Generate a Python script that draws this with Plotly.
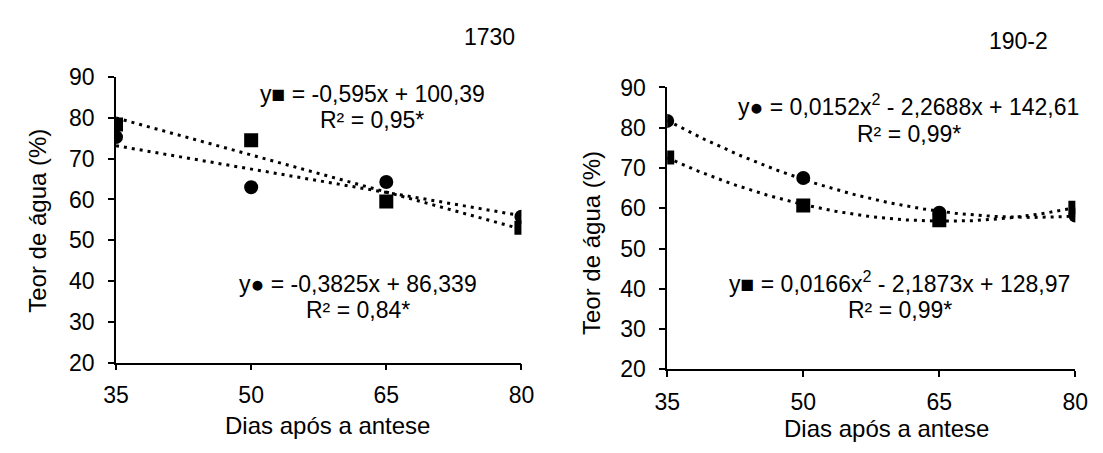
import numpy as np
import plotly.graph_objects as go

# ---------------- data ----------------
days = [35, 50, 65, 80]
# Cultivar 1730
c1730_circle = [75.3, 63.0, 64.3, 55.8]
c1730_square = [78.4, 74.5, 59.5, 53.1]
# Cultivar 190-2
c1902_circle = [81.7, 67.5, 58.9, 58.2]
c1902_square = [72.6, 60.7, 57.0, 60.1]

y_ticks = [20, 30, 40, 50, 60, 70, 80, 90]
x_ticks = [35, 50, 65, 80]
titles = ["1730", "190-2"]
x_title = "Dias após a antese"
y_title = "Teor de água (%)"

eq_1730_square = ["y■ = -0,595x + 100,39", "R² = 0,95*"]
eq_1730_circle = ["y● = -0,3825x + 86,339", "R² = 0,84*"]
eq_1902_circle = ["y● = 0,0152x<sup>2</sup> - 2,2688x + 142,61", "R² = 0,99*"]
eq_1902_square = ["y■ = 0,0166x<sup>2</sup> - 2,1873x + 128,97", "R² = 0,99*"]

FONT = "Liberation Sans, Arial, sans-serif"
FS = 23      # titles and equations
FS_TICK = 23
W, H = 1103, 453

fig = go.Figure()

def add_series(xa, ya, ys, symbol, deg):
    # trendline fitted to the data (as the spreadsheet does)
    coef = np.polyfit(days, ys, deg)
    xs = np.linspace(min(days), max(days), 120)
    fig.add_trace(go.Scatter(x=xs, y=np.polyval(coef, xs), mode="lines",
                             line=dict(color="black", width=3, dash="3px,5px"),
                             xaxis=xa, yaxis=ya, hoverinfo="skip", showlegend=False))
    fig.add_trace(go.Scatter(x=days, y=ys, mode="markers",
                             marker=dict(symbol=symbol, size=14, color="black"),
                             xaxis=xa, yaxis=ya, showlegend=False))

add_series("x", "y", c1730_circle, "circle", 1)
add_series("x", "y", c1730_square, "square", 1)
add_series("x2", "y2", c1902_circle, "circle", 2)
add_series("x2", "y2", c1902_square, "square", 2)

def px_x(v):
    return v / W

def px_y(v):
    return 1 - v / H

axis_common = dict(showline=True, linecolor="black", linewidth=1.5, ticks="outside",
                   ticklen=6, tickwidth=1.5, tickcolor="black", showgrid=False,
                   zeroline=False, tickfont=dict(family=FONT, size=FS_TICK, color="black"))

fig.update_layout(
    width=W, height=H, margin=dict(l=0, r=0, t=0, b=0),
    paper_bgcolor="white", plot_bgcolor="white",
    font=dict(family=FONT, size=FS, color="black"),
    xaxis=dict(domain=[px_x(105.5), px_x(520.7)], range=[35, 80], tickvals=x_ticks,
               anchor="y", ticklabelstandoff=5, **axis_common),
    yaxis=dict(domain=[px_y(371), px_y(68)], range=[20, 90], tickvals=y_ticks,
               anchor="x", ticklabelstandoff=9, **axis_common),
    xaxis2=dict(domain=[px_x(670), px_x(1088)], range=[35, 80], tickvals=x_ticks,
                anchor="y2", ticklabelstandoff=5, **axis_common),
    yaxis2=dict(domain=[px_y(378), px_y(79)], range=[20, 90], tickvals=y_ticks,
                anchor="x2", ticklabelstandoff=9, **axis_common),
)

def text(s, x, y, angle=0, size=FS):
    fig.add_annotation(text=s, x=px_x(x), y=px_y(y), xref="paper", yref="paper",
                       showarrow=False, xanchor="center", yanchor="middle",
                       textangle=angle, font=dict(family=FONT, size=size, color="black"))

text(titles[0], 488, 25)
text(titles[1], 1030, 30)
text(x_title, 322, 438, size=24)
text(x_title, 895, 441, size=24)
text(y_title, 25, 220, -90, size=24)
text(y_title, 593, 244, -90, size=24)

text(eq_1730_square[0], 368, 86)
text(eq_1730_square[1], 368, 114)
text(eq_1730_circle[0], 353, 287)
text(eq_1730_circle[1], 353, 315)
text(eq_1902_circle[0], 917, 98)
text(eq_1902_circle[1], 918, 128)
text(eq_1902_square[0], 908, 285)
text(eq_1902_square[1], 908, 315)

fig.write_html("out.html", config={"displayModeBar": False},
               post_script="document.body.style.margin='0';document.body.style.overflow='hidden';")
